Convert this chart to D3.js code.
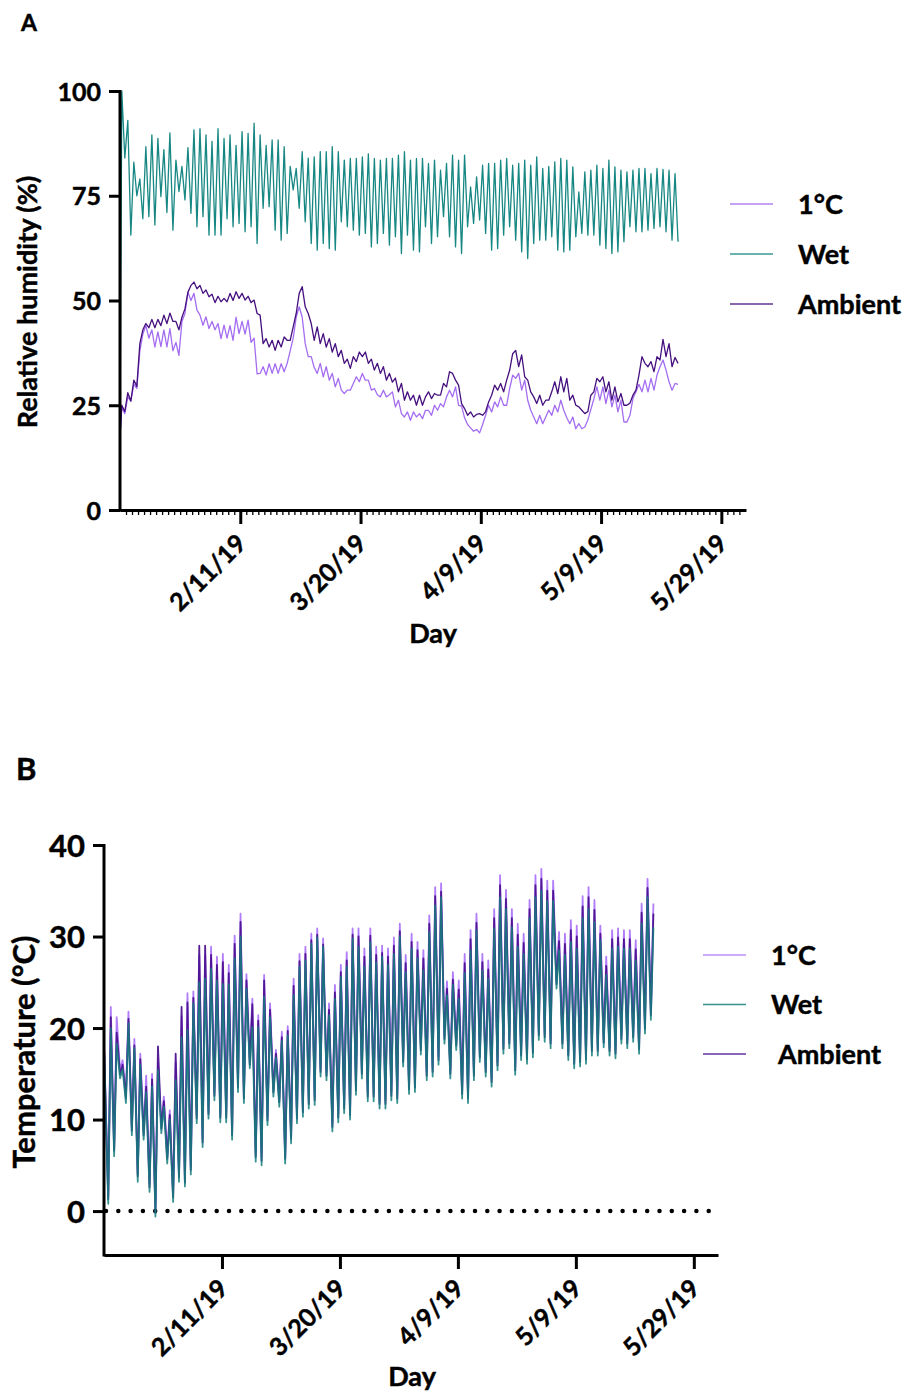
<!DOCTYPE html>
<html>
<head>
<meta charset="utf-8">
<script src="https://cdn.jsdelivr.net/npm/d3@7"></script>
<style>
  body { margin: 0; background: #fff; }
  svg text { font-family: Lato, "Open Sans", sans-serif; font-weight: 700; fill: #000; stroke: #000; stroke-width: 0.45px; }
</style>
</head>
<body>
<svg id="chart" width="908" height="1395"></svg>
<script>
// ---------- shared x axis (day index since start of logging) ----------
const dayTickValues = [20, 40, 60, 80, 100];
const dayTickLabels = ["2/11/19", "3/20/19", "4/9/19", "5/9/19", "5/29/19"];
const seriesNames = ["1°C", "Wet", "Ambient"];

// ---------- A: relative humidity (%), two readings per day ----------
const rhStart = { cold: 17.5, wet: 17, ambient: 17.5 };

const rhWetEarly = [
  100, 93, 83, 79, 86.7, 89.5, 88.7, 86, 90, 83.5,
  82, 86.5, 90.7, 91, 89.5, 88, 91, 88.7, 89.5, 87,
  90.3, 89.9, 92.3, 89.5, 87, 88.3, 88.3, 86.7, 82, 81.5,
  85.5, 84, 84.3, 85.5, 85.5, 86.7, 85.5, 83.5, 83.9, 83.9,
  84.3, 85, 83.9, 83.5, 83.9, 83.9, 84.7, 85.5, 83.5, 83.9,
  83.9, 82.7, 83.5, 81.1, 82.7, 84.7, 83.5, 84.7, 77.1, 79.5,
  82.3, 82.7, 82.7, 83.5, 83.9, 82.3, 82.7, 83.5, 82.3, 84.3,
  81.5, 82, 83.1, 83.9, 83.5, 81.9, 75.9, 80.7, 81.1, 82.3,
  81.5, 83.5, 81.9, 81.1, 80.7, 81.1, 81.5, 81.5, 80.3, 81.5,
  81.3, 81.1, 80.3
];
const rhWetLate = [
  84, 65.6, 75, 69.5, 70, 68, 74.8, 71, 66.8, 76,
  74, 70.8, 67.6, 70, 65.6, 65.6, 65.6, 69.5, 67.6, 68.4,
  66.4, 67.6, 63.6, 72, 72.4, 66.8, 64.4, 66, 76.4, 72,
  68.8, 63.6, 62, 63.6, 62.4, 62, 68.8, 67.6, 66.8, 65.6,
  66, 62.8, 63.6, 66, 63.2, 65.2, 61.2, 65.6, 62, 61.6,
  67.6, 63.6, 65.2, 70, 65.2, 62.8, 61.2, 67.6, 68.4, 69.2,
  66, 62, 62.4, 65.6, 67.6, 64.4, 61.6, 60, 63.6, 64.4,
  64.4, 65.2, 62, 61.6, 62, 65.2, 66, 65.6, 65.6, 63.2,
  62.4, 61.2, 61.6, 64, 67.6, 66.4, 66.4, 66.8, 67.2, 67.6,
  66.4, 64.4, 64
];
const rhAmbientEarly = [
  25, 28, 31, 39.7, 44.5, 45.5, 45.5, 46.5, 47, 45,
  46, 52, 54.4, 53.6, 52.5, 51.5, 51, 50.5, 51.7, 52.1,
  51.7, 51, 50.1, 46.5, 40.9, 40.5, 40.5, 41.3, 40.5, 46.9,
  53.3, 46.9, 40.5, 39.7, 38.9, 37.7, 36.6, 35, 33.8, 35.4,
  36.6, 35, 33.4, 32.6, 31, 30.5, 28.2, 26.2, 26.2, 25,
  25, 28.2, 27.8, 27.4, 29.4, 32.6, 29.8, 24.2, 23.4, 22.8,
  22.6, 25.8, 29.8, 30.2, 31, 37.3, 34.2, 31.8, 28.2, 25.4,
  25, 26.2, 30.6, 31.8, 31.4, 27.4, 24.6, 23, 27.4, 31.4,
  31.8, 30.6, 29.4, 27.8, 25, 27.4, 32.2, 35, 35.4, 36.6,
  40.7, 39.7, 36.4
];
const rhAmbientLate = [
  23.5, 26, 29.5, 43, 43.5, 43.5, 44, 44.5, 45, 43,
  48, 53.6, 52.8, 51.7, 50.9, 49.5, 49.7, 49.7, 50, 50.5,
  50.1, 49.5, 46.9, 39.7, 38.9, 38.1, 38.9, 40.5, 43.7, 51.7,
  48.5, 44.5, 43.7, 42.1, 40.9, 39.7, 38.1, 36, 36.6, 37.7,
  37.7, 36, 35, 34.2, 32.6, 31.5, 30.2, 28.2, 27.4, 27.4,
  27, 26.6, 27.4, 30.2, 33, 31, 25.4, 22.6, 22.2, 23,
  23.5, 27.4, 28.6, 28.2, 33.4, 38.1, 37, 31, 27, 27.4,
  26.2, 28.2, 27.8, 28.2, 26.2, 25, 23.8, 23.5, 28.2, 30.6,
  28.2, 26.2, 25.8, 25, 25.5, 28.6, 36.6, 34.2, 33, 35.8,
  36.6, 34.2, 35
];
const rhColdEarly = [
  24.5, 27, 30, 38, 44, 43, 42.5, 43, 43.3, 40,
  45, 52, 51.7, 46.5, 46.1, 45, 44.5, 44.1, 44, 46,
  45, 45.3, 41, 32.6, 32.2, 32.6, 32.6, 33, 38, 46,
  46, 36.6, 34, 35, 34.2, 32.6, 31.4, 27.8, 28.6, 31.8,
  32.6, 31, 29, 27, 27, 28.2, 26.2, 22.2, 21.4, 22.2,
  21.8, 23.8, 25, 25.4, 27, 27, 25, 22, 19.6, 19.2,
  20.4, 25, 25.8, 27, 25, 32.2, 32.6, 31, 23.8, 20.6,
  20.6, 23.8, 25, 26.2, 22, 22.2, 20.6, 19.8, 24, 29.4,
  29.4, 28.6, 27.4, 26.2, 21, 26.6, 30, 31, 31.4, 32.2,
  35.8, 30.6, 30.2
];
const rhColdLate = [
  23, 26, 29, 42, 41, 38.9, 39, 38.9, 38, 36.9,
  46.9, 50, 47.7, 44.1, 43.3, 43, 40.9, 41, 40.5, 42.1,
  42, 40, 32.5, 34.2, 34.9, 34.9, 34.9, 35, 41, 48.5,
  39.7, 36.6, 32.6, 31.8, 31, 29.4, 28.6, 28.6, 30.2, 30.6,
  31, 28.6, 27.5, 28.6, 27.5, 24.6, 23, 23.4, 23.4, 23,
  23.8, 22.6, 23.8, 24.6, 28.6, 29.4, 24.8, 20.4, 18.8, 18.4,
  22.6, 23.4, 24.6, 25, 29, 31.4, 28.6, 26.2, 22.2, 22.6,
  22.2, 22.6, 23.4, 23.8, 20.6, 19.4, 19.4, 21.5, 26.5, 26.2,
  25.4, 24.6, 23.4, 21, 22.6, 28.2, 28.2, 28.2, 28.6, 34.2,
  33.4, 28.6, 30
];

// ---------- B: temperature (°C), daily low then daily high ----------
const tempStart = { cold: 18.5, wet: 18, ambient: 18.2 };

const tempColdLow = [
  1.7, 6.9, 15.4, 12.7, 9.2, 4.1, 8.7, 3, 0.3, 9.4,
  6.1, 1.9, 4.1, 3.6, 4.9, 10.5, 7.9, 11, 13, 10.6,
  10.6, 8.7, 13.9, 12.7, 16.5, 6.3, 5.9, 10.3, 13.4, 12.3,
  6.1, 8.3, 10.5, 11.2, 12.1, 12.5, 15.6, 15.2, 9.6, 10.6,
  11.6, 10.9, 13.6, 15.4, 12.9, 12.9, 12.1, 12.1, 13, 12.7,
  16.7, 13.7, 13.9, 18, 15.2, 15.6, 16.9, 19.2, 15.4, 18.5,
  13.2, 12.7, 15.2, 17.2, 15.6, 14.5, 16.3, 18.1, 18.7, 15.8,
  17.4, 17, 17.7, 19.6, 19.4, 18.7, 25.2, 18.7, 17.4, 16.5,
  16.7, 17, 17.9, 17.9, 18.8, 17.9, 17.6, 19.2, 18.7, 19.4,
  18.1, 20.3, 21.8
];
const tempColdHigh = [
  22.3, 21.2, 16.5, 21.8, 18.8, 17.2, 14.8, 15, 16.2, 12.5,
  11, 16.2, 21.3, 23.8, 24, 28, 28, 28.9, 27.8, 28.1,
  26.9, 30.1, 32.5, 25.9, 23.2, 21.4, 25.8, 22.7, 17.6, 19.6,
  20.2, 25.4, 28.1, 28.9, 30.3, 30.9, 29.8, 22.7, 24.7, 26.9,
  28.3, 30.9, 30.9, 28.7, 30.9, 28.9, 29, 28.7, 29.9, 31.4,
  28, 30.3, 29.4, 28.5, 32.3, 35.4, 35.8, 25.1, 26.1, 25.2,
  28.1, 30.7, 32.5, 28.1, 27.4, 33, 36.7, 35.1, 33, 31.4,
  30.3, 34, 36.7, 37.4, 36.1, 36.1, 30.5, 30.3, 31.8, 31.2,
  34.4, 35.4, 34, 31.2, 27.8, 30.7, 30.9, 30.7, 30.7, 29.6,
  33.6, 36.3, 33.6
];
const tempWetLow = [
  0.8, 6, 14.5, 11.8, 8.3, 3.2, 7.8, 2.1, -0.6, 8.5,
  5.2, 1, 3.2, 2.7, 4, 9.6, 7, 10.1, 12.1, 9.7,
  9.7, 7.8, 13, 11.8, 15.6, 5.4, 5, 9.4, 12.5, 11.4,
  5.2, 7.4, 9.6, 10.3, 11.2, 11.6, 14.7, 14.3, 8.7, 9.7,
  10.7, 10, 12.7, 14.5, 12, 12, 11.2, 11.2, 12.1, 11.8,
  15.8, 12.8, 13, 17.1, 14.3, 14.7, 16, 18.3, 14.5, 17.6,
  12.3, 11.8, 14.3, 16.3, 14.7, 13.6, 15.4, 17.2, 17.8, 14.9,
  16.5, 16.1, 16.8, 18.7, 18.5, 17.8, 24.3, 17.8, 16.5, 15.6,
  15.8, 16.1, 17, 17, 17.9, 17, 16.7, 18.3, 17.8, 18.5,
  17.2, 19.4, 20.9
];
const tempWetHigh = [
  20, 18.3, 15.5, 20.5, 17.8, 16, 13, 13.6, 15.4, 11.4,
  10, 14.3, 19, 19.8, 22.7, 25, 25.4, 26.5, 25.2, 24.8,
  24.8, 27.6, 30, 24.3, 20.1, 20.1, 23.4, 21.2, 16.8, 18.6,
  19.2, 23.6, 26.7, 27.4, 29.2, 29.9, 28.9, 21.4, 23.2, 25.6,
  26.7, 29.8, 28.9, 26.7, 29.4, 27.2, 27.8, 26.9, 28.1, 30,
  26.1, 28.7, 27.6, 26.3, 30.5, 33.4, 34.3, 23.6, 24.7, 23.2,
  26, 28.5, 30.7, 26.3, 25.4, 30.9, 34.3, 33, 31, 28.9,
  28.1, 32, 34.3, 35, 33.9, 33.9, 28.5, 28, 29.4, 28.7,
  32, 33, 31.6, 29.6, 25.8, 28.7, 28.9, 28.7, 28.7, 27.4,
  31.4, 34.3, 31
];
const tempAmbientLow = [
  1.3, 6.6, 14.9, 12.3, 8.8, 3.8, 8.3, 2.6, -0.2, 9,
  5.7, 1.5, 3.7, 3.1, 4.5, 10.1, 7.5, 10.6, 12.6, 10.2,
  10.2, 8.3, 13.5, 12.3, 16, 5.9, 5.5, 9.9, 13, 11.9,
  5.7, 7.9, 10.1, 10.8, 11.7, 12.1, 15.2, 14.8, 9.2, 10.2,
  11.2, 10.5, 13.2, 15, 12.5, 12.5, 11.7, 11.7, 12.6, 12.3,
  16.3, 13.3, 13.5, 17.6, 14.8, 15.2, 16.5, 18.8, 15, 18.1,
  12.8, 12.3, 14.8, 16.8, 15.2, 14.1, 15.9, 17.7, 18.3, 15.4,
  17, 16.6, 17.3, 19.2, 19, 18.3, 24.8, 18.3, 17, 16.1,
  16.3, 16.6, 17.5, 17.5, 18.4, 17.5, 17.2, 18.8, 18.3, 19,
  17.7, 19.9, 21.4
];
const tempAmbientHigh = [
  21.2, 19.5, 16, 21, 18.1, 16.6, 13.6, 14.4, 18, 12,
  10.5, 17.2, 22.3, 22.8, 23.3, 29, 29, 28, 26.9, 27.2,
  26, 29.2, 31.6, 25.2, 22.6, 20.8, 25.2, 22, 17.2, 19,
  19.7, 24.6, 27.3, 28.1, 29.6, 30.2, 29.1, 22, 23.9, 26.1,
  27.4, 30.2, 30, 27.8, 30.1, 28, 28.2, 27.8, 29, 30.6,
  27.1, 29.4, 28.5, 27.6, 31.4, 34.4, 34.9, 24.3, 25.3, 24.2,
  27.1, 29.7, 31.5, 27.2, 26.4, 32, 35.6, 34.1, 32, 30.2,
  29.3, 33, 35.6, 36.3, 35, 35, 29.5, 29.2, 30.7, 30,
  33.3, 34.3, 32.9, 30.3, 26.8, 29.7, 29.9, 29.7, 29.7, 28.6,
  32.6, 35.3, 32.5
];

// ---------- colours ----------
const colA = { cold: "#a46df0", wet: "#178783", ambient: "#45107e" };
const colB = { cold: "#b27df8", wet: "#147f7b", ambient: "#4c1190" };

// ---------- assemble time series from the readings ----------
function twicePerDay(start, first, second, o1, o2) {
  const pts = [[0, start]];
  first.forEach((v, i) => { pts.push([i + o1, v]); pts.push([i + o2, second[i]]); });
  return pts;
}
const rhSeries = {
  wet: twicePerDay(rhStart.wet, rhWetEarly, rhWetLate, 0.3, 0.8),
  cold: twicePerDay(rhStart.cold, rhColdEarly, rhColdLate, 0.3, 0.8),
  ambient: twicePerDay(rhStart.ambient, rhAmbientEarly, rhAmbientLate, 0.3, 0.8)
};
const tempSeries = {
  cold: twicePerDay(tempStart.cold, tempColdLow, tempColdHigh, 0.72, 1.15),
  ambient: twicePerDay(tempStart.ambient, tempAmbientLow, tempAmbientHigh, 0.72, 1.15),
  wet: twicePerDay(tempStart.wet, tempWetLow, tempWetHigh, 0.72, 1.15)
};

const svg = d3.select("#chart");

function styleAxis(g) {
  g.selectAll(".domain").attr("stroke", "#000").attr("stroke-width", 3);
  g.selectAll(".tick line").attr("stroke", "#000").attr("stroke-width", 3);
  g.selectAll(".tick text").style("font-family", "Lato, 'Open Sans', sans-serif")
    .style("font-weight", 700).attr("fill", "#000");
}

function panel(opts) {
  const { x, y, yTicks, yLabel, series, order, colors, width, legendX, legendY, legendGap,
          legendTextX, letter, letterPos, letterSize, dayLabelPos, yLabelPos, minorTicks } = opts;
  const g = svg.append("g");

  // zero reference line (dotted)
  if (opts.dotSize > 0) {
    g.append("line")
      .attr("x1", x.range()[0] + 2).attr("x2", x.range()[1] - 8)
      .attr("y1", y(0)).attr("y2", y(0))
      .attr("stroke", "#000").attr("stroke-width", opts.dotSize)
      .attr("stroke-linecap", "round")
      .attr("stroke-dasharray", `0 ${opts.dotGap}`);
  }

  // data lines
  const line = d3.line().x(d => x(d[0])).y(d => y(d[1]));
  order.forEach(k => {
    g.append("path").datum(series[k])
      .attr("fill", "none").attr("stroke", colors[k])
      .attr("stroke-width", width).attr("stroke-linejoin", "round")
      .attr("opacity", opts.opacity[k])
      .attr("d", line);
  });

  // y axis
  const ya = g.append("g").attr("transform", `translate(${x.range()[0]},0)`)
    .call(d3.axisLeft(y).tickValues(yTicks).tickSize(11).tickSizeOuter(0).tickPadding(8));
  ya.select(".domain").attr("d", `M0,${y.range()[1] - 1}V${y.range()[0] + 1.5}`);
  styleAxis(ya);
  ya.selectAll(".tick text").style("font-size", opts.yTickSize + "px").attr("dy", "0.36em");

  // x axis
  const xa = g.append("g").attr("transform", `translate(0,${y.range()[0]})`)
    .call(d3.axisBottom(x).tickValues(dayTickValues).tickSize(14).tickSizeOuter(0)
      .tickFormat((d, i) => dayTickLabels[i]));
  styleAxis(xa);
  xa.selectAll(".tick text")
    .style("font-size", "25px")
    .attr("text-anchor", "end").attr("dy", null).attr("y", 0)
    .attr("transform", "translate(7,35) rotate(-45)");

  if (minorTicks) {
    const ma = g.append("g").attr("transform", `translate(0,${y.range()[0]})`)
      .call(d3.axisBottom(x).tickValues(d3.range(1, 104)).tickSize(5).tickSizeOuter(0).tickFormat(""));
    ma.select(".domain").remove();
    ma.selectAll(".tick line").attr("stroke", "#000").attr("stroke-width", 1.3);
  }

  // titles
  g.append("text").attr("x", dayLabelPos[0]).attr("y", dayLabelPos[1])
    .attr("text-anchor", "middle").style("font-size", "27px").text("Day");
  g.append("text")
    .attr("transform", `translate(${yLabelPos[0]},${yLabelPos[1]}) rotate(-90)`)
    .attr("text-anchor", "middle").style("font-size", opts.yLabelSize + "px").text(yLabel);
  g.append("text").attr("x", letterPos[0]).attr("y", letterPos[1])
    .style("font-size", letterSize + "px").text(letter);

  // legend
  ["cold", "wet", "ambient"].forEach((k, i) => {
    const ly = legendY + i * legendGap;
    g.append("line").attr("x1", legendX).attr("x2", legendX + 43)
      .attr("y1", ly).attr("y2", ly)
      .attr("stroke", colors[k]).attr("stroke-width", 1.3).attr("opacity", 0.85);
    g.append("text").attr("x", legendTextX[i]).attr("y", ly).attr("dy", "0.36em")
      .style("font-size", "27px").text(seriesNames[i]);
  });
}

// Panel A: relative humidity
panel({
  x: d3.scaleLinear().domain([0, 104.1]).range([120, 746]),
  y: d3.scaleLinear().domain([0, 100]).range([510, 91]),
  yTicks: [0, 25, 50, 75, 100],
  yLabel: "Relative humidity (%)",
  yLabelSize: 27,
  yTickSize: 25,
  series: rhSeries,
  order: ["wet", "cold", "ambient"],
  opacity: { wet: 1, cold: 1, ambient: 1 },
  colors: colA,
  width: 1.3,
  legendX: 730, legendY: 204, legendGap: 50,
  legendTextX: [798, 798, 798],
  letter: "A", letterPos: [21, 31], letterSize: 23,
  dayLabelPos: [433, 643],
  yLabelPos: [37, 302],
  minorTicks: true,
  dotSize: 0, dotGap: 6
});

// Panel B: temperature
panel({
  x: d3.scaleLinear().domain([0, 104.1]).range([104, 718]),
  y: d3.scaleLinear().domain([-4.8, 40]).range([1255, 845]),
  yTicks: [0, 10, 20, 30, 40],
  yLabel: "Temperature (°C)",
  yLabelSize: 31,
  yTickSize: 31,
  series: tempSeries,
  order: ["cold", "ambient", "wet"],
  opacity: { wet: 0.85, cold: 1, ambient: 0.95 },
  colors: colB,
  width: 1.8,
  legendX: 703, legendY: 955, legendGap: 49.5,
  legendTextX: [771, 771, 778],
  letter: "B", letterPos: [16, 780], letterSize: 31,
  dayLabelPos: [412, 1386],
  yLabelPos: [35, 1052],
  minorTicks: false,
  dotSize: 4.5, dotGap: 12.3
});
</script>
</body>
</html>
